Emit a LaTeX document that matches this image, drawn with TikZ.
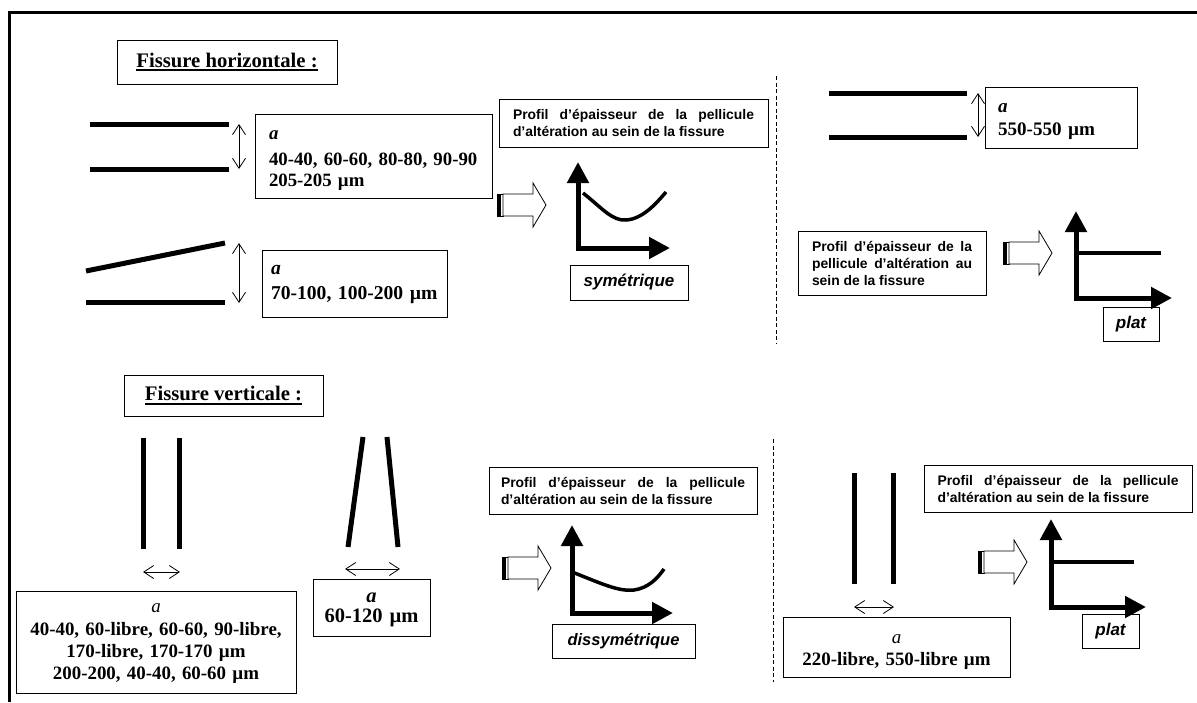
\documentclass[tikz,border=0pt]{standalone}
\usepackage{fontspec}
\setmainfont{Liberation Serif}
\setsansfont{Liberation Sans}
\newcommand{\myul}[1]{\setbox0\hbox{#1}\rlap{\vrule width\wd0 height -2.4pt depth 4.3pt}\box0}
\usetikzlibrary{arrows.meta}
\tikzset{
 frameline/.style={line width=3.5pt},
 crack/.style={line width=5pt},
 dimarrow/.style={line width=0.8pt, {Straight Barb[length=10pt,width=13pt]}-{Straight Barb[length=10pt,width=13pt]}},
 axisline/.style={line width=5pt, line join=miter, {Triangle[length=21pt,width=21pt]}-{Triangle[length=21pt,width=21pt]}},
 curveline/.style={line width=3.5pt},
 sepline/.style={line width=0.9pt, dash pattern=on 4pt off 2.5pt},
 titlebox/.style={draw, line width=1pt, inner sep=0pt, font=\bfseries\fontsize{20.7}{24}\selectfont},
 valbox/.style n args={3}{draw, line width=1pt, inner sep=0pt, anchor=north,
   font=\bfseries\fontsize{#1}{#2}\selectfont, text height=#3},
 profbox/.style={draw, line width=1pt, inner sep=0pt, align=justify,
   font=\sffamily\bfseries\fontsize{13.9}{17}\selectfont,
   execute at begin node={\tolerance=9999 \hyphenpenalty=10000 }},
 typebox/.style={draw, line width=1pt, inner sep=0pt, font=\sffamily\bfseries\itshape\fontsize{17}{20}\selectfont},
 blockarrow/.pic={
   \fill (0,-11) rectangle (4,11);
   \draw[line width=0.8pt] (0,-11) rectangle (6,11);
   \draw[line width=0.8pt, fill=white] (6,-11) -- (36,-11) -- (36,-22) -- (49,0) -- (36,22) -- (36,11) -- (6,11) -- cycle;
 }
}
\begin{document}
\begin{tikzpicture}[x=1pt,y=-1pt]
\useasboundingbox (0,0) rectangle (1197,702);
% frame
\draw[frameline] (9.5,702) -- (9.5,12.7) -- (1197,12.7);

% ---------- horizontal crack ----------
\node[titlebox, minimum width=220, minimum height=44] (t1) at (227,62) {\myul{Fissure horizontale :}};

\draw[crack] (90,124) -- (229,124);
\draw[crack] (90,169) -- (229,169);
\coordinate (d1a) at (239,124); \coordinate (d1b) at (239,169);
\draw[dimarrow] (d1a) -- (d1b);
\node[valbox={18.8}{21}{25pt}, text depth=59pt, minimum width=237, text width=209, align=left] (hb1) at (373.5,114)
  {\textit{a}\\[5pt]40-40, 60-60, 80-80, 90-90\\205-205 µm};

\draw[crack] (86,271) -- (225,243);
\draw[crack] (86,302) -- (225,302);
\coordinate (d2a) at (239,243); \coordinate (d2b) at (239,303);
\draw[dimarrow] (d2a) -- (d2b);
\node[valbox={19.6}{25}{24pt}, text depth=43pt, minimum width=185, text width=167, align=left] (hb2) at (354.5,250)
  {\textit{a}\\70-100, 100-200 µm};

\node[profbox, minimum width=269, minimum height=48, text width=241] (pr1) at (633.5,123)
  {Profil d’épaisseur de la pellicule d’altération au sein de la fissure};
\pic at (497,205) {blockarrow};
\coordinate (g1t) at (578,162); \coordinate (g1c) at (578,248); \coordinate (g1r) at (670,248);
\draw[axisline] (g1t) -- (g1c) -- (g1r);
\draw[curveline] (583,193) .. controls (602,208) and (612,221) .. (626,220) .. controls (642,219) and (655,205) .. (666,192);
\node[typebox, minimum width=118, minimum height=35] (sym) at (629,282.5) {symétrique};

\draw[sepline] (776,76) -- (776,343);

\draw[crack] (829,93) -- (967,93);
\draw[crack] (829,137) -- (967,137);
\coordinate (d3a) at (978,93); \coordinate (d3b) at (978,137);
\draw[dimarrow] (d3a) -- (d3b);
\node[valbox={19.1}{23}{25pt}, text depth=36pt, minimum width=152, text width=126, align=left] (hb3) at (1061,87)
  {\textit{a}\\550-550 µm};

\node[profbox, minimum width=188, minimum height=64, text width=160] (pr2) at (892,263)
  {Profil d’épaisseur de la pellicule d’altération au sein de la fissure};
\pic at (1003,253) {blockarrow};
\coordinate (g2t) at (1076,211); \coordinate (g2c) at (1076,298); \coordinate (g2r) at (1172,298);
\draw[axisline] (g2t) -- (g2c) -- (g2r);
\draw[curveline] (1076,253) -- (1161,253);
\node[typebox, minimum width=56, minimum height=34] (plat1) at (1131,324) {plat};

% ---------- vertical crack ----------
\node[titlebox, minimum width=199, minimum height=41] (t2) at (223.5,395.5) {\myul{Fissure verticale :}};

\draw[crack] (143,438) -- (143,549);
\draw[crack] (179,438) -- (179,549);
\coordinate (d4a) at (143,572); \coordinate (d4b) at (180,572);
\draw[dimarrow] (d4a) -- (d4b);
\node[valbox={18.9}{22}{21pt}, text depth=81pt, minimum width=280, text width=270, align=center] (vb1) at (156,591)
  {{\mdseries\itshape a}\\[1pt]40-40, 60-libre, 60-60, 90-libre,\\170-libre, 170-170 µm\\200-200, 40-40, 60-60 µm};

\draw[crack] (363,437) -- (348,547);
\draw[crack] (387,437) -- (398,547);
\coordinate (d5a) at (345,569); \coordinate (d5b) at (400,569);
\draw[dimarrow] (d5a) -- (d5b);
\node[valbox={20.5}{20}{23pt}, text depth=34pt, minimum width=117, text width=110, align=center] (vb2) at (371.5,579)
  {\textit{a}\\60-120 µm};

\node[profbox, minimum width=268, minimum height=47, text width=244] (pr3) at (623,490.5)
  {Profil d’épaisseur de la pellicule d’altération au sein de la fissure};
\pic at (502,568) {blockarrow};
\coordinate (g3t) at (572,525); \coordinate (g3c) at (572,613); \coordinate (g3r) at (673,613);
\draw[axisline] (g3t) -- (g3c) -- (g3r);
\draw[curveline] (572,572) .. controls (598,582) and (618,592) .. (634,590) .. controls (648,588) and (657,579) .. (664,569);
\node[typebox, minimum width=143, minimum height=34, font=\sffamily\bfseries\itshape\fontsize{16.5}{20}\selectfont] (dis) at (623.5,641) {dissymétrique};

\draw[sepline] (773,439) -- (773,682);

\draw[crack] (854,473) -- (854,584);
\draw[crack] (893,473) -- (893,584);
\coordinate (d6a) at (854,607); \coordinate (d6b) at (894,607);
\draw[dimarrow] (d6a) -- (d6b);
\node[valbox={18.9}{22}{26pt}, text depth=34pt, minimum width=227, text width=220, align=center] (vb3) at (896.5,617)
  {{\mdseries\itshape a}\\220-libre, 550-libre µm\hspace*{14pt}};

\node[profbox, minimum width=268, minimum height=47, text width=241] (pr4) at (1058,488.5)
  {Profil d’épaisseur de la pellicule d’altération au sein de la fissure};
\pic at (978,562) {blockarrow};
\coordinate (g4t) at (1051,519); \coordinate (g4c) at (1051,607); \coordinate (g4r) at (1146,607);
\draw[axisline] (g4t) -- (g4c) -- (g4r);
\draw[curveline] (1051,562) -- (1134,562);
\node[typebox, minimum width=57, minimum height=34] (plat2) at (1110.5,631) {plat};
\end{tikzpicture}
\end{document}
